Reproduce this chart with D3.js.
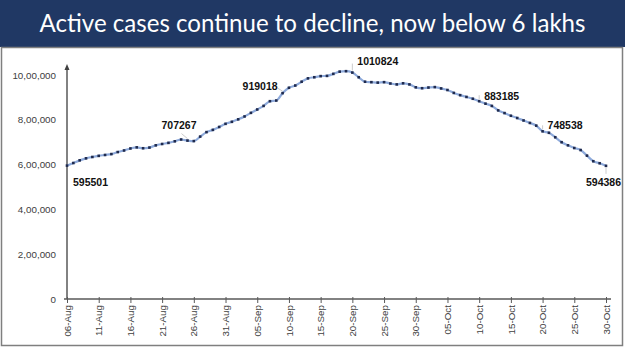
<!DOCTYPE html>
<html>
<head>
<meta charset="utf-8">
<script src="https://cdnjs.cloudflare.com/ajax/libs/d3/7.8.5/d3.min.js"></script>
<style>
  body { margin: 0; background: #ffffff; }
  svg { display: block; }
</style>
</head>
<body>
<div id="chart"></div>
<script>
// data: daily active cases, 06-Aug to 30-Oct
var startDate = "2020-08-06";
var activeCases = [
  595501, 607000, 619000, 628000, 634000, 639000, 643000, 647000, 656000, 663000,
  672000, 677000, 673000, 676000, 686000, 692000, 697000, 704000, 712000, 707267,
  705000, 725000, 745000, 755000, 768000, 782000, 791000, 802000, 815000, 831000,
  846000, 862000, 883000, 886000, 919018, 943000, 953000, 970000, 985000, 990000,
  995000, 996000, 1005000, 1015000, 1017000, 1010824, 990000, 970000, 968000, 966000,
  968000, 962000, 958000, 963000, 958000, 945000, 941000, 944000, 946000, 940000,
  933000, 920000, 910000, 902000, 894000, 883185, 872000, 862000, 842000, 830000,
  818000, 808000, 797000, 786000, 774000, 748538, 742000, 722000, 700000, 686000,
  674000, 665000, 640000, 615000, 606000, 594386
];
var tickLabels = ["06-Aug", "11-Aug", "16-Aug", "21-Aug", "26-Aug", "31-Aug", "05-Sep",
  "10-Sep", "15-Sep", "20-Sep", "25-Sep", "30-Sep", "05-Oct", "10-Oct", "15-Oct",
  "20-Oct", "25-Oct", "30-Oct"];
var yTicks = [0, 200000, 400000, 600000, 800000, 1000000];
var labelledDays = [0, 19, 34, 45, 65, 75, 85];

var width = 625, height = 351;

var svg = d3.select("#chart")
  .append("svg")
    .attr("width", width)
    .attr("height", height);

// title bar
svg.append("rect")
  .attr("x", 0).attr("y", 0)
  .attr("width", width).attr("height", 47)
  .attr("fill", "#203864");
svg.append("text")
  .attr("x", width / 2)
  .attr("y", 32)
  .attr("text-anchor", "middle")
  .attr("fill", "white")
  .style("font-family", "Lato, 'Open Sans', sans-serif")
  .style("font-size", "25px")
  .attr("textLength", 546)
  .attr("lengthAdjust", "spacingAndGlyphs")
  .text("Active cases continue to decline, now below 6 lakhs");

// chart panel
svg.append("rect")
  .attr("x", 1.5).attr("y", 47.5)
  .attr("width", 621).attr("height", 298)
  .attr("fill", "white")
  .attr("stroke", "#7f7f7f")
  .attr("stroke-width", 1.5);

var parse = d3.utcParse("%Y-%m-%d");
var t0 = parse(startDate);
var table = activeCases.map(function(v, i) {
  return {date: d3.utcDay.offset(t0, i), value: v, i: i};
});

var x = d3.scaleUtc()
  .domain([table[0].date, table[table.length - 1].date])
  .range([67, 606]);
var y = d3.scaleLinear()
  .domain([0, 1000000])
  .range([299, 75]);

var indian = function(v) {
  if (v === 0) return "0";
  var s = String(v);
  var last3 = s.slice(-3), rest = s.slice(0, -3);
  rest = rest.replace(/\B(?=(\d{2})+(?!\d))/g, ",");
  return rest + "," + last3;
};

// Y axis
var yAxis = svg.append("g")
  .attr("transform", "translate(67,0)")
  .call(d3.axisLeft(y).tickValues(yTicks).tickSize(0).tickPadding(11).tickFormat(indian));
yAxis.select(".domain").remove();
yAxis.selectAll("text")
  .attr("fill", "#404040")
  .style("font-family", "'Liberation Sans', Arial, sans-serif")
  .style("font-size", "9.8px");

svg.append("line")
  .attr("x1", 67).attr("x2", 67)
  .attr("y1", 299).attr("y2", 70)
  .attr("stroke", "#595959")
  .attr("stroke-width", 1.5);
svg.append("path")
  .attr("d", "M67,64 L64.5,70 L69.5,70 Z")
  .attr("fill", "#404040");

// X axis
var tickDates = tickLabels.map(function(l, k) { return d3.utcDay.offset(t0, k * 5); });
var xAxis = svg.append("g")
  .attr("transform", "translate(0,299)")
  .call(d3.axisBottom(x).tickValues(tickDates).tickSize(4).tickPadding(3)
    .tickFormat(function(d, k) { return tickLabels[k]; }));
xAxis.select(".domain").remove();
xAxis.selectAll(".tick line")
  .attr("y1", -2)
  .attr("stroke", "#595959");
xAxis.selectAll("text")
  .attr("transform", "rotate(-90)")
  .attr("x", -6).attr("y", 0).attr("dy", "0.32em")
  .style("text-anchor", "end")
  .attr("fill", "#404040")
  .style("font-family", "'Liberation Sans', Arial, sans-serif")
  .style("font-size", "9.8px");
svg.append("line")
  .attr("x1", 64).attr("x2", 611)
  .attr("y1", 299).attr("y2", 299)
  .attr("stroke", "#595959")
  .attr("stroke-width", 1.5);

// line
var line = d3.line()
  .x(function(d) { return x(d.date); })
  .y(function(d) { return y(d.value); })
  .curve(d3.curveMonotoneX);
svg.append("path")
  .datum(table)
  .attr("d", line)
  .attr("fill", "none")
  .attr("stroke", "#8eaadb")
  .attr("stroke-width", 2.2);

svg.selectAll("rect.pt")
  .data(table)
  .enter()
  .append("rect")
    .attr("class", "pt")
    .attr("x", function(d) { return x(d.date) - 1.3; })
    .attr("y", function(d) { return y(d.value) - 1.3; })
    .attr("width", 2.6)
    .attr("height", 2.6)
    .attr("fill", "#1f2a4d");

// data labels with thin leader lines
var offsets = {0: [6, 20], 19: [-26, -12], 34: [-40, -3], 45: [5, -8], 65: [5, -1], 75: [5, -2], 85: [-20, 20]};
var leaders = {19: [-6, -7], 34: [-5, -5], 45: [0, -9], 65: [0, -6], 75: [0, -6], 85: [0, 8]};
var labelled = table.filter(function(d) { return labelledDays.indexOf(d.i) >= 0; });

svg.selectAll("line.leader")
  .data(labelled.filter(function(d) { return leaders[d.i]; }))
  .enter()
  .append("line")
    .attr("class", "leader")
    .attr("x1", function(d) { return x(d.date); })
    .attr("y1", function(d) { return y(d.value) + (leaders[d.i][1] > 0 ? 2 : -2); })
    .attr("x2", function(d) { return x(d.date) + leaders[d.i][0]; })
    .attr("y2", function(d) { return y(d.value) + leaders[d.i][1]; })
    .attr("stroke", "#bfbfbf")
    .attr("stroke-width", 0.8);

svg.selectAll("text.lbl")
  .data(labelled)
  .enter()
  .append("text")
    .attr("class", "lbl")
    .attr("x", function(d) { return x(d.date) + offsets[d.i][0]; })
    .attr("y", function(d) { return y(d.value) + offsets[d.i][1]; })
    .attr("fill", "#111111")
    .style("font-family", "'Liberation Sans', Arial, sans-serif")
    .style("font-weight", "bold")
    .style("font-size", "10.5px")
    .text(function(d) { return d.value; });
</script>
</body>
</html>
